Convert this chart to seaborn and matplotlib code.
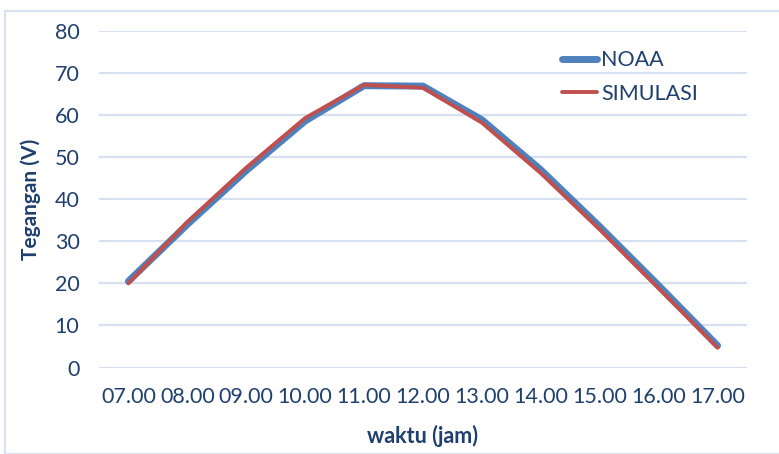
import matplotlib
matplotlib.use("Agg")
import matplotlib.pyplot as plt
import seaborn as sns
import pandas as pd
from matplotlib.patches import Rectangle

waktu = ["07.00", "08.00", "09.00", "10.00", "11.00", "12.00",
         "13.00", "14.00", "15.00", "16.00", "17.00"]
noaa = [20.5, 34.0, 46.8, 58.6, 67.0, 66.9, 58.9, 47.0, 33.5, 19.5, 5.2]
simulasi = [20.0, 34.6, 47.5, 59.3, 67.2, 66.5, 58.2, 46.2, 32.8, 18.8, 4.7]
y_ticks = [0, 10, 20, 30, 40, 50, 60, 70, 80]

sns.set_theme(style="white")
plt.rcParams["font.family"] = ["Lato", "DejaVu Sans"]

df = pd.DataFrame({
    "waktu": waktu * 2,
    "nilai": noaa + simulasi,
    "seri": ["NOAA"] * len(waktu) + ["SIMULASI"] * len(waktu),
})
df["pos"] = list(range(len(waktu))) * 2

fig = plt.figure(figsize=(7.79, 4.54), dpi=100)
ax = fig.add_axes([0.127, 0.1905, 0.832, 0.7412])

text_color = "#1F3F6E"
grid_color = "#D6E0F0"

palette = {"NOAA": "#4F81BD", "SIMULASI": "#C0504D"}
sns.lineplot(data=df[df.seri == "NOAA"], x="pos", y="nilai", color=palette["NOAA"],
             linewidth=5.0, ax=ax, label="NOAA", solid_joinstyle="round",
             solid_capstyle="round")
sns.lineplot(data=df[df.seri == "SIMULASI"], x="pos", y="nilai", color=palette["SIMULASI"],
             linewidth=2.8, ax=ax, label="SIMULASI", solid_joinstyle="round",
             solid_capstyle="round")

ax.set_xlim(-0.5, len(waktu) - 0.5)
ax.set_ylim(0, 80)
ax.set_yticks(y_ticks)
ax.set_xticks(range(len(waktu)))
ax.set_xticklabels(waktu)
ax.yaxis.grid(True, color=grid_color, linewidth=1.6)
ax.set_axisbelow(True)
for s in ax.spines.values():
    s.set_visible(False)
ax.tick_params(axis="both", length=0, labelsize=15.5, colors=text_color)
ax.tick_params(axis="x", pad=14)
ax.tick_params(axis="y", pad=14)

ax.set_xlabel("waktu (jam)", fontsize=15.5, fontweight="bold", color=text_color, labelpad=13)
ax.set_ylabel("Tegangan (V)", fontsize=15, fontweight="bold", color=text_color, labelpad=10)

leg = ax.legend(loc="upper left", bbox_to_anchor=(0.685, 1.0), frameon=False,
                fontsize=15.5, handlelength=1.6, handletextpad=0.2, labelspacing=0.62)
for t in leg.get_texts():
    t.set_color(text_color)

fig.patches.append(Rectangle((0.007, 0.0), 1.0, 0.975, transform=fig.transFigure,
                             fill=False, edgecolor="#D6E0F0", linewidth=1.5))

fig.savefig("out.png", dpi=100)
